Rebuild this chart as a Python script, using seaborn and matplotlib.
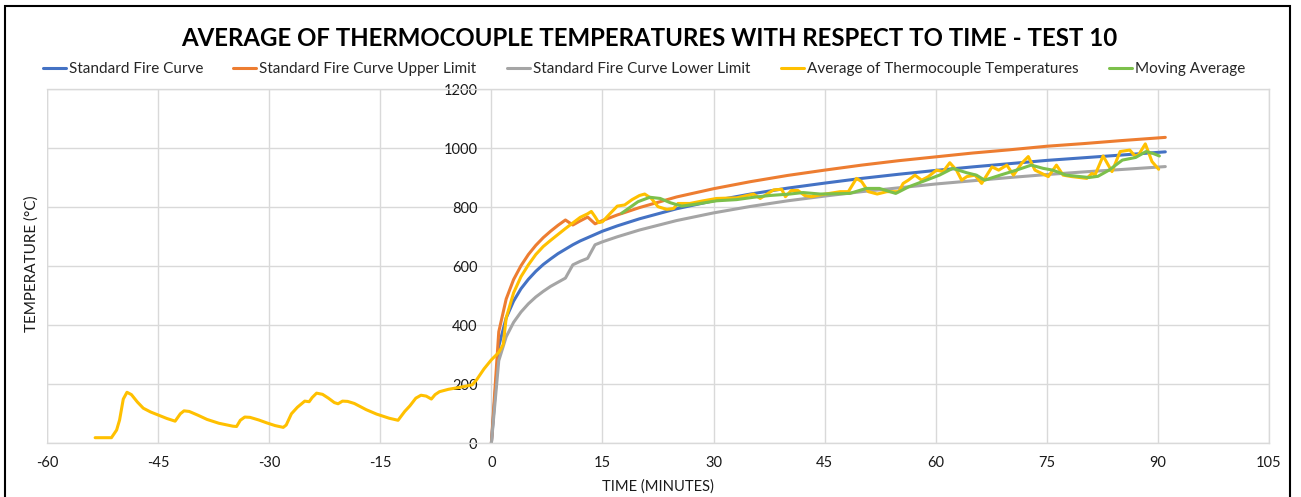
import matplotlib
matplotlib.use("Agg")
import matplotlib.pyplot as plt
from matplotlib.patches import Rectangle
import seaborn as sns
import pandas as pd

# Furnace time base (minutes) for the standard fire curve and its limits
curve_time = [0, 1, 2, 3, 4, 5, 6, 7, 8, 9, 10, 11, 12, 13, 14, 15, 17, 20,
              25, 30, 35, 40, 45, 50, 55, 60, 65, 70, 75, 80, 85, 91]
standard_curve = [0, 329, 425, 482, 524, 556, 583, 606, 625, 643, 658, 673, 686,
                  697, 708, 719, 737, 761, 795, 822, 845, 865, 882, 898, 912,
                  925, 937, 948, 959, 968, 977, 988]
upper_limit = [0, 378, 489, 555, 602, 640, 671, 697, 719, 739, 757, 740, 754,
               767, 744, 755, 774, 799, 835, 863, 887, 908, 926, 943, 958,
               971, 984, 995, 1007, 1016, 1026, 1037]
lower_limit = [0, 280, 361, 410, 445, 473, 496, 515, 532, 546, 560, 605, 617,
               627, 673, 683, 700, 723, 755, 781, 803, 822, 838, 853, 866,
               879, 890, 901, 911, 920, 928, 938]

# Average of the thermocouple readings (pre-heat period included)
tc_time = [-53.5, -51.3, -50.6, -50.2, -49.7, -49.2, -48.6, -47.8, -47.0, -46.0,
           -45.0, -43.8, -42.7, -42.0, -41.5, -40.8, -39.6, -38.4, -36.8, -34.9,
           -34.4, -33.9, -33.3, -32.6, -31.4, -30.3, -29.2, -28.1, -27.7, -27.0,
           -26.2, -25.2, -24.6, -24.2, -23.6, -22.8, -22.0, -21.2, -20.7, -20.1,
           -19.4, -18.5, -16.9, -15.5, -13.8, -12.6, -11.7, -11.0, -10.2, -9.5,
           -8.8, -8.1, -7.6, -7.0, -5.8, -4.2, -2.6, -2.0, -1.0, 0.0,
           1.0, 1.6, 2.0, 3.0, 4.0, 5.0, 6.0, 7.0, 8.0, 9.0,
           10.0, 11.0, 12.0, 13.0, 13.5, 14.0, 14.5, 15.0, 16.0, 17.0,
           18.0, 19.0, 20.0, 20.7, 21.6, 22.5, 23.7, 24.6, 25.2, 26.8,
           28.6, 30.4, 33.1, 35.4, 36.3, 38.1, 39.2, 39.7, 40.5, 41.4,
           42.3, 43.2, 44.4, 47.1, 48.2, 49.3, 50.0, 50.9, 52.1, 53.4,
           55.0, 55.6, 56.3, 57.2, 58.1, 59.0, 60.1, 61.0, 61.9, 62.8,
           63.5, 64.2, 65.3, 66.2, 67.6, 68.5, 69.6, 70.5, 71.6, 72.5,
           73.4, 74.3, 75.2, 76.3, 77.2, 78.4, 80.4, 81.1, 81.5, 82.6,
           83.8, 84.9, 86.2, 86.9, 87.4, 88.3, 89.2, 90.1]
tc_average = [19, 19, 45, 79, 150, 173, 165, 140, 119, 106,
              96, 84, 75, 100, 110, 108, 95, 81, 68, 58,
              57, 78, 89, 88, 79, 69, 60, 54, 62, 100,
              122, 143, 141, 155, 170, 166, 153, 138, 134, 143,
              142, 135, 114, 99, 85, 78, 108, 127, 153, 163,
              160, 150, 165, 175, 183, 190, 198, 215, 252, 283,
              308, 335, 425, 510, 565, 605, 640, 667, 688, 708,
              728, 747, 766, 778, 786, 768, 748, 751, 778, 804,
              808, 826, 840, 845, 830, 802, 793, 796, 813, 813,
              822, 830, 832, 845, 830, 859, 861, 836, 857, 857,
              840, 836, 842, 853, 853, 898, 887, 853, 845, 853,
              853, 881, 892, 909, 892, 904, 926, 921, 951, 926,
              892, 904, 909, 881, 937, 926, 943, 909, 949, 972,
              926, 915, 904, 943, 909, 904, 898, 915, 909, 974,
              921, 989, 994, 974, 978, 1015, 955, 929]

# Moving average of the thermocouple readings
ma_time = [17.6, 19.8, 21.4, 22.8, 24.1, 25.7, 27.7, 30.4, 33.1, 35.4,
           37.6, 40.3, 42.1, 44.4, 46.5, 48.4, 50.6, 52.4, 54.6, 56.4,
           58.2, 60.5, 62.3, 64.2, 65.5, 66.6, 68.7, 70.9, 72.9, 74.5,
           75.8, 77.6, 80.7, 81.9, 83.4, 85.2, 87.0, 88.4, 89.3, 90.2]
ma_values = [780, 819, 834, 830, 816, 804, 811, 822, 826, 834,
             840, 845, 850, 845, 846, 847, 864, 864, 847, 870,
             887, 909, 932, 917, 909, 892, 909, 926, 943, 932,
             926, 909, 901, 905, 926, 960, 969, 989, 983, 974]

x_ticks = [-60, -45, -30, -15, 0, 15, 30, 45, 60, 75, 90, 105]
y_ticks = [0, 200, 400, 600, 800, 1000, 1200]

sns.set_style("white")
plt.rcParams["font.family"] = ["Lato", "DejaVu Sans"]

W, H = 1301, 497
fig = plt.figure(figsize=(W / 100, H / 100), dpi=100)
ax = fig.add_axes([47 / W, 1 - 443.3 / H, (1269 - 47) / W, (443.3 - 89.3) / H])

grid_c = "#D9D9D9"
lw = 2.2
series = [
    (curve_time, standard_curve, "Standard Fire Curve", "#4472C4"),
    (curve_time, upper_limit, "Standard Fire Curve Upper Limit", "#ED7D31"),
    (curve_time, lower_limit, "Standard Fire Curve Lower Limit", "#A5A5A5"),
    (tc_time, tc_average, "Average of Thermocouple Temperatures", "#FFC000"),
    (ma_time, ma_values, "Moving Average", "#7CC04B"),
]
for xs, ys, name, col in series:
    df = pd.DataFrame({"t": xs, "T": ys})
    sns.lineplot(data=df, x="t", y="T", ax=ax, color=col, lw=lw, label=name,
                 estimator=None, sort=False)

ax.set_xlim(-60, 105)
ax.set_ylim(0, 1200)
ax.set_xticks(x_ticks)
ax.set_yticks(y_ticks)
ax.set_xticklabels([str(v) for v in x_ticks])
ax.set_yticklabels([str(v) for v in y_ticks])
ax.grid(True, color=grid_c, lw=1.0)
ax.set_axisbelow(True)

# y-axis sits at time zero, as in the spreadsheet chart
ax.spines["left"].set_position(("data", 0))
ax.spines["left"].set_visible(False)
for s in ("top", "right", "bottom"):
    ax.spines[s].set_color(grid_c)
    ax.spines[s].set_linewidth(1.0)
ax.axvline(-60, color=grid_c, lw=1.0, zorder=0)
ax.tick_params(axis="both", length=0, labelsize=10.5, colors="#1a1a1a")
ax.tick_params(axis="y", pad=10)
ax.tick_params(axis="x", pad=9)

ax.set_xlabel("")
ax.set_ylabel("")
fig.text(658 / W, 1 - 487 / H, "TIME (MINUTES)", ha="center", va="center",
         fontsize=10.6, color="#1a1a1a")
fig.text(32 / W, 1 - 264 / H, "TEMPERATURE (°C)", ha="center", va="center",
         rotation=90, fontsize=11, color="#1a1a1a")

fig.text(649 / W, 1 - 38 / H,
         "AVERAGE OF THERMOCOUPLE TEMPERATURES WITH RESPECT TO TIME - TEST 10",
         ha="center", va="center", fontsize=17.3, fontweight="bold", color="black")

handles, labels = ax.get_legend_handles_labels()
ax.get_legend().remove()
fig.legend(handles, labels, loc="center", bbox_to_anchor=(644 / W, 1 - 69 / H),
           ncol=5, frameon=False, fontsize=11, handlelength=1.5,
           handletextpad=0.2, columnspacing=2.0)

fig.add_artist(Rectangle((5 / W, -0.05), 1285 / W, 1.05 - 6 / H,
                         transform=fig.transFigure, fill=False,
                         edgecolor="black", lw=1.5))

fig.savefig("out.png", dpi=100)
